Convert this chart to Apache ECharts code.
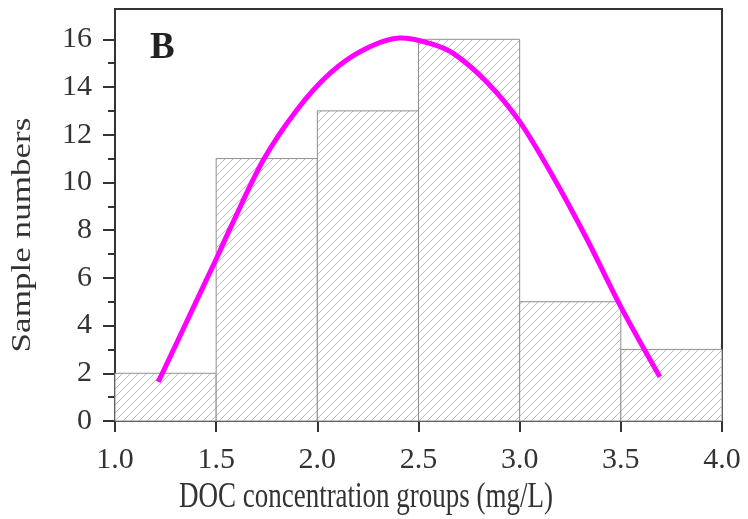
<!DOCTYPE html>
<html>
<head>
<meta charset="utf-8">
<script src="https://cdn.jsdelivr.net/npm/echarts@6/dist/echarts.min.js"></script>
<style>
  html, body { margin: 0; padding: 0; background: #fff; }
  #chart { width: 748px; height: 519px; }
</style>
</head>
<body>
<div id="chart"></div>
<script>
// Histogram bins (mg/L) and sample counts
const binStarts = [1.0, 1.5, 2.0, 2.5, 3.0, 3.5];
const binEnds   = [1.5, 2.0, 2.5, 3.0, 3.5, 4.0];
const counts    = [2, 11, 13, 16, 5, 3];

// Fitted distribution curve
const fitX = [1.214, 1.373, 1.509, 1.576, 1.733, 1.898, 2.062, 2.227, 2.410,
              2.556, 2.672, 2.836, 3.000, 3.166, 3.331, 3.496, 3.693];
const fitY = [1.64, 4.50, 6.95, 8.20, 10.94, 13.03, 14.57, 15.55, 16.05,
              15.83, 15.41, 14.22, 12.55, 10.23, 7.65, 4.85, 1.85];

// Axis ticks
const xTicks = [1.0, 1.5, 2.0, 2.5, 3.0, 3.5, 4.0];
const yMajorTicks = [0, 2, 4, 6, 8, 10, 12, 14, 16];
const yMinorTicks = [1, 3, 5, 7, 9, 11, 13, 15];

// Text
const panelLabel = 'B';
const xTitle = 'DOC concentration groups (mg/L)';
const yTitle = 'Sample numbers';

// Diagonal hatch pattern for the bars
function makeHatch() {
  const s = 8;
  const c = document.createElement('canvas');
  c.width = s; c.height = s;
  const g = c.getContext('2d');
  g.fillStyle = '#ffffff';
  g.fillRect(0, 0, s, s);
  g.strokeStyle = '#b4b4b4';
  g.lineWidth = 0.9;
  g.beginPath();
  g.moveTo(-1, s + 1); g.lineTo(s + 1, -1);
  g.moveTo(-1, 1); g.lineTo(1, -1);
  g.moveTo(s - 1, s + 1); g.lineTo(s + 1, s - 1);
  g.stroke();
  return c;
}
const hatch = makeHatch();

const barData = binStarts.map((s, i) => [s, binEnds[i], counts[i]]);
const fitData = fitX.map((x, i) => [x, fitY[i]]);

const serif = '"Liberation Serif", "Times New Roman", serif';
const ink = '#333333';

const chart = echarts.init(document.getElementById('chart'), null, { renderer: 'canvas' });
chart.setOption({
  animation: false,
  backgroundColor: '#ffffff',
  grid: {
    left: 115, top: 9, right: 26, bottom: 98,
    show: true, borderColor: ink, borderWidth: 2, backgroundColor: 'transparent'
  },
  graphic: [{
    type: 'text', left: 150, top: 30,
    style: { text: panelLabel, font: 'bold 37px ' + serif, fill: '#222' }
  }, {
    // x-axis title (tall serif lettering)
    type: 'text', x: 366, y: 497, scaleY: 1.35,
    style: { text: xTitle, font: '27px ' + serif, fill: ink, align: 'center', verticalAlign: 'middle' }
  }, {
    // y-axis title, reading bottom to top
    type: 'text', x: 23, y: 235, rotation: Math.PI / 2, scaleX: 1.3,
    style: { text: yTitle, font: '27px ' + serif, fill: ink, align: 'center', verticalAlign: 'middle' }
  }],
  xAxis: {
    type: 'value', min: 1.0, max: 4.0, interval: 0.5,
    axisLine: { show: true, lineStyle: { color: ink, width: 2 } },
    axisTick: { show: true, inside: false, length: 11, lineStyle: { color: ink, width: 2 } },
    axisLabel: {
      fontFamily: serif, fontSize: 30, color: ink, margin: 24,
      formatter: v => v.toFixed(1), customValues: xTicks
    },
    splitLine: { show: false }
  },
  yAxis: [{
    type: 'value', min: 0, max: 17.27,
    axisLine: { show: true, lineStyle: { color: ink, width: 2 } },
    axisTick: { show: true, length: 12, lineStyle: { color: ink, width: 2 }, customValues: yMajorTicks },
    axisLabel: { fontFamily: serif, fontSize: 30, color: ink, margin: 23, customValues: yMajorTicks },
    splitLine: { show: false }
  }, {
    type: 'value', min: 0, max: 17.27, position: 'left',
    axisLine: { show: false },
    axisTick: { show: true, length: 7, lineStyle: { color: ink, width: 2 }, customValues: yMinorTicks },
    axisLabel: { show: false },
    splitLine: { show: false }
  }],
  series: [{
    type: 'custom',
    xAxisIndex: 0, yAxisIndex: 0,
    data: barData,
    renderItem: function (params, api) {
      const p0 = api.coord([api.value(0), api.value(2)]);
      const p1 = api.coord([api.value(1), 0]);
      return {
        type: 'rect',
        shape: { x: p0[0], y: p0[1], width: p1[0] - p0[0], height: p1[1] - p0[1] },
        style: { fill: { image: hatch, repeat: 'repeat' }, stroke: '#8f8f8f', lineWidth: 1 }
      };
    },
    z: 1
  }, {
    type: 'line',
    xAxisIndex: 0, yAxisIndex: 0,
    data: fitData,
    smooth: 0.3,
    showSymbol: false,
    lineStyle: { color: '#ff00ff', width: 5, cap: 'butt' },
    z: 3
  }]
});
</script>
</body>
</html>
